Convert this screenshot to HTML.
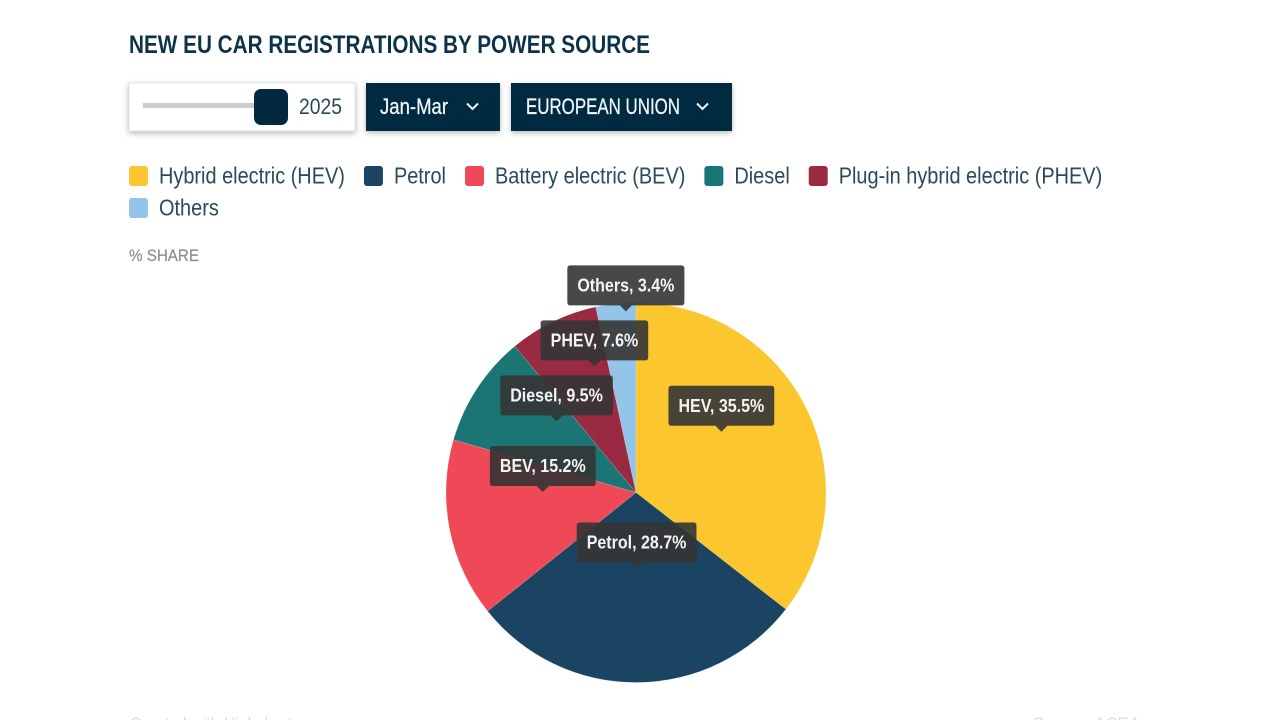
<!DOCTYPE html>
<html lang="en">
<head>
<meta charset="utf-8">
<title>New EU car registrations by power source</title>
<style>
html,body{margin:0;padding:0;background:#fff;width:1280px;height:720px;overflow:hidden}
svg{display:block;font-family:"Liberation Sans",Arial,sans-serif}
</style>
</head>
<body>
<svg id="chart" width="1280" height="720" viewBox="0 0 1280 720" xmlns="http://www.w3.org/2000/svg">
<defs>
<filter id="shadow" x="-10%" y="-20%" width="120%" height="150%">
<feDropShadow dx="0" dy="2" stdDeviation="3" flood-color="#000" flood-opacity="0.28"/>
</filter>
<filter id="soft" x="-5%" y="-5%" width="110%" height="110%">
<feGaussianBlur stdDeviation="0.3"/>
</filter>
</defs>

<text x="129" y="53" font-size="25" font-weight="700" fill="#0d3349" textLength="521" lengthAdjust="spacingAndGlyphs">NEW EU CAR REGISTRATIONS BY POWER SOURCE</text>

<g>
<rect x="129" y="83" width="226" height="48" fill="#fff" stroke="#e2e2e2" stroke-width="1" filter="url(#shadow)"/>
<rect x="143" y="103" width="114" height="5" fill="#cccccc"/>
<rect x="254" y="89" width="34" height="36" rx="7" fill="#03293f"/>
<text x="299" y="114" font-size="22" fill="#2a4a5c" textLength="43" lengthAdjust="spacingAndGlyphs">2025</text>
</g>

<g>
<rect x="366" y="83" width="134" height="48" fill="#03293f" filter="url(#shadow)"/>
<text x="380" y="114" font-size="22" fill="#f2f5f7" stroke="#f2f5f7" stroke-width="0.3" textLength="68" lengthAdjust="spacingAndGlyphs">Jan-Mar</text>
<path d="M467 103.500L472.500 109L478 103.500" fill="none" stroke="#f2f5f7" stroke-width="2"/>
</g>

<g>
<rect x="511" y="83" width="221" height="48" fill="#03293f" filter="url(#shadow)"/>
<text x="526" y="114" font-size="22" fill="#f2f5f7" stroke="#f2f5f7" stroke-width="0.3" textLength="154" lengthAdjust="spacingAndGlyphs">EUROPEAN UNION</text>
<path d="M697 103.500L702.500 109L708 103.500" fill="none" stroke="#f2f5f7" stroke-width="2"/>
</g>

<g id="legend"></g>

<text x="129" y="261" font-size="17" fill="#8c8c8c" stroke="#8c8c8c" stroke-width="0.2" textLength="70" lengthAdjust="spacingAndGlyphs">% SHARE</text>

<g id="pie"></g>
<g id="tips" filter="url(#soft)"></g>

<text x="130" y="729" font-size="17" fill="#dcdcdc" textLength="170" lengthAdjust="spacingAndGlyphs">Created with Highcharts</text>
<text x="1033" y="729" font-size="17" fill="#dcdcdc" textLength="107" lengthAdjust="spacingAndGlyphs">Source: ACEA</text>
</svg>

<script>
const legendLabels = ['Hybrid electric (HEV)', 'Petrol', 'Battery electric (BEV)', 'Diesel', 'Plug-in hybrid electric (PHEV)', 'Others'];
const shortLabels = ['HEV', 'Petrol', 'BEV', 'Diesel', 'PHEV', 'Others'];
const shareValues = [35.5, 28.7, 15.2, 9.5, 7.6, 3.4];
const sliceColors = ['#fcc72e', '#1b4462', '#ef4856', '#1c7575', '#9a2a42', '#93c5ea'];

const NS = 'http://www.w3.org/2000/svg';
const CX = 636, CY = 492.5, R = 190;
const total = shareValues.reduce(function (a, b) { return a + b; }, 0);

function angleOf(v) { return v / total * Math.PI * 2; }
function polarX(a, r) { return CX + Math.sin(a) * r; }
function polarY(a, r) { return CY - Math.cos(a) * r; }
function make(tag, parent) {
  const el = document.createElementNS(NS, tag);
  parent.appendChild(el);
  return el;
}
function condense(el, factor) {
  const w = el.getComputedTextLength() * factor;
  el.setAttribute('textLength', w.toFixed(1));
  el.setAttribute('lengthAdjust', 'spacingAndGlyphs');
  return w;
}

/* legend */
const legend = document.getElementById('legend');
let lx = 129, ly = 166;
legendLabels.forEach(function (label, i) {
  const item = make('g', legend);
  
  
  const sw = make('rect', item);
  
  
  sw.setAttribute('width', 19);
  sw.setAttribute('height', 20);
  sw.setAttribute('rx', 3);
  sw.setAttribute('fill', sliceColors[i]);
  const t = make('text', item);
  
  
  t.setAttribute('font-size', 23);
  t.setAttribute('fill', '#2a4a5c');
  t.textContent = label;
  const w = condense(t, 0.866);
  if (lx + 30 + w > 1150) { lx = 129; ly += 32; }
  sw.setAttribute('x', lx);
  sw.setAttribute('y', ly);
  t.setAttribute('x', lx + 30);
  t.setAttribute('y', ly + 17.5);
  lx += 30 + w + 19;
});

/* slices */
const pie = document.getElementById('pie');
const tips = document.getElementById('tips');
let cum = 0;
const mids = [];
shareValues.forEach(function (v, i) {
  const a0 = angleOf(cum);
  const a1 = angleOf(cum + v);
  cum += v;
  mids.push((a0 + a1) / 2);
  const large = a1 - a0 > Math.PI ? 1 : 0;
  const p = make('path', pie);
  
  
  p.setAttribute('d', 'M' + CX + ' ' + CY + 'L' + polarX(a0, R).toFixed(2) + ' ' + polarY(a0, R).toFixed(2) +
    'A' + R + ' ' + R + ' 0 ' + large + ' 1 ' + polarX(a1, R).toFixed(2) + ' ' + polarY(a1, R).toFixed(2) + 'Z');
  p.setAttribute('fill', sliceColors[i]);
  p.setAttribute('stroke', '#fff');
  p.setAttribute('stroke-width', '0.5');
  p.setAttribute('stroke-opacity', '0.3');
});

/* tooltips: anchored at half radius, lifted, pushed up when they collide */
const placed = [];
shareValues.forEach(function (v, i) {
  const g = make('g', tips);
  
  
  const box = make('path', g);
  
  
  box.setAttribute('fill', 'rgba(51,51,51,0.9)');
  const t = make('text', g);
  
  
  t.setAttribute('font-size', 18);
  t.setAttribute('font-weight', 700);
  t.setAttribute('fill', '#f4f4f4');
  t.textContent = shortLabels[i] + ', ' + v.toFixed(1) + '%';
  const tw = condense(t, 0.89);
  const w = tw + 20;
  const h = 40;
  const tipX = polarX(mids[i], R / 2);
  let tipY = polarY(mids[i], R / 2) - 19;
  placed.forEach(function (o) {
    const overlapX = Math.abs(o.x - tipX) < (o.w + w) / 2;
    const overlapY = Math.abs(o.y - tipY) < 55;
    if (overlapX && overlapY) tipY = o.y - 55;
  });
  placed.push({ x: tipX, y: tipY, w: w });
  const l = tipX - w / 2, r = tipX + w / 2, b = tipY - 6, top = b - h, c = 3;
  box.setAttribute('d', 'M' + (l + c) + ' ' + top + 'H' + (r - c) + 'Q' + r + ' ' + top + ' ' + r + ' ' + (top + c) +
    'V' + (b - c) + 'Q' + r + ' ' + b + ' ' + (r - c) + ' ' + b +
    'H' + (tipX + 6) + 'L' + tipX + ' ' + tipY + 'L' + (tipX - 6) + ' ' + b +
    'H' + (l + c) + 'Q' + l + ' ' + b + ' ' + l + ' ' + (b - c) +
    'V' + (top + c) + 'Q' + l + ' ' + top + ' ' + (l + c) + ' ' + top + 'Z');
  t.setAttribute('x', l + 10);
  t.setAttribute('y', top + 26);
});
</script>
</body>
</html>
